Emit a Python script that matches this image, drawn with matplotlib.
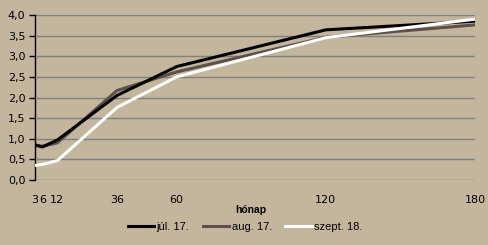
import matplotlib
matplotlib.use("Agg")
import matplotlib.pyplot as plt

months = [3, 6, 12, 36, 60, 120, 180]
tick_months = [3, 6, 12, 36, 60, 120, 180]
jul17 = [0.85, 0.80, 0.97, 2.05, 2.75, 3.64, 3.85]
aug17 = [0.85, 0.82, 0.90, 2.17, 2.62, 3.46, 3.76]
szept18 = [0.35, 0.38, 0.47, 1.76, 2.50, 3.45, 3.90]
y_ticks = [0.0, 0.5, 1.0, 1.5, 2.0, 2.5, 3.0, 3.5, 4.0]

bg = "#C4B59D"
fig = plt.figure(figsize=(4.88, 2.45), dpi=100, facecolor=bg)
ax = fig.add_axes([35 / 488, 1 - 180 / 245, 440 / 488, 165 / 245], facecolor=bg)

ax.plot(months, jul17, color="#000000", lw=2.2, label="júl. 17.", zorder=3)
ax.plot(months, aug17, color="#5E5048", lw=2.2, label="aug. 17.", zorder=2)
ax.plot(months, szept18, color="#FFFFFF", lw=2.2, label="szept. 18.", zorder=4)

ax.set_xlim(3, 180)
ax.set_ylim(0, 4)
ax.set_yticks(y_ticks)
ax.set_yticklabels([f"{v:.1f}".replace(".", ",") for v in y_ticks],
                   fontsize=8, family="DejaVu Sans")
ax.set_xticks(tick_months)
ax.set_xticklabels([str(m) for m in tick_months], fontsize=8, family="DejaVu Sans")
ax.tick_params(axis="x", length=0, pad=11)
ax.tick_params(axis="y", length=4, width=1, direction="out", pad=3)
ax.yaxis.grid(True, color="#808080", lw=1)
ax.set_axisbelow(True)
for s in ["top", "right", "bottom"]:
    ax.spines[s].set_visible(False)
ax.spines["left"].set_color("black")
ax.spines["left"].set_linewidth(1)

fig.text(251 / 488, 1 - 210 / 245, "hónap", ha="center", va="center",
         fontsize=7.5, fontweight="bold", family="Liberation Sans")
fig.legend(loc="center", bbox_to_anchor=(245 / 488, 1 - 227 / 245), ncol=3,
           frameon=False, prop={"family": "Liberation Sans", "size": 8},
           handlelength=2.4, handletextpad=0.2, columnspacing=1.2)

fig.savefig("out.png", dpi=100, facecolor=bg)
